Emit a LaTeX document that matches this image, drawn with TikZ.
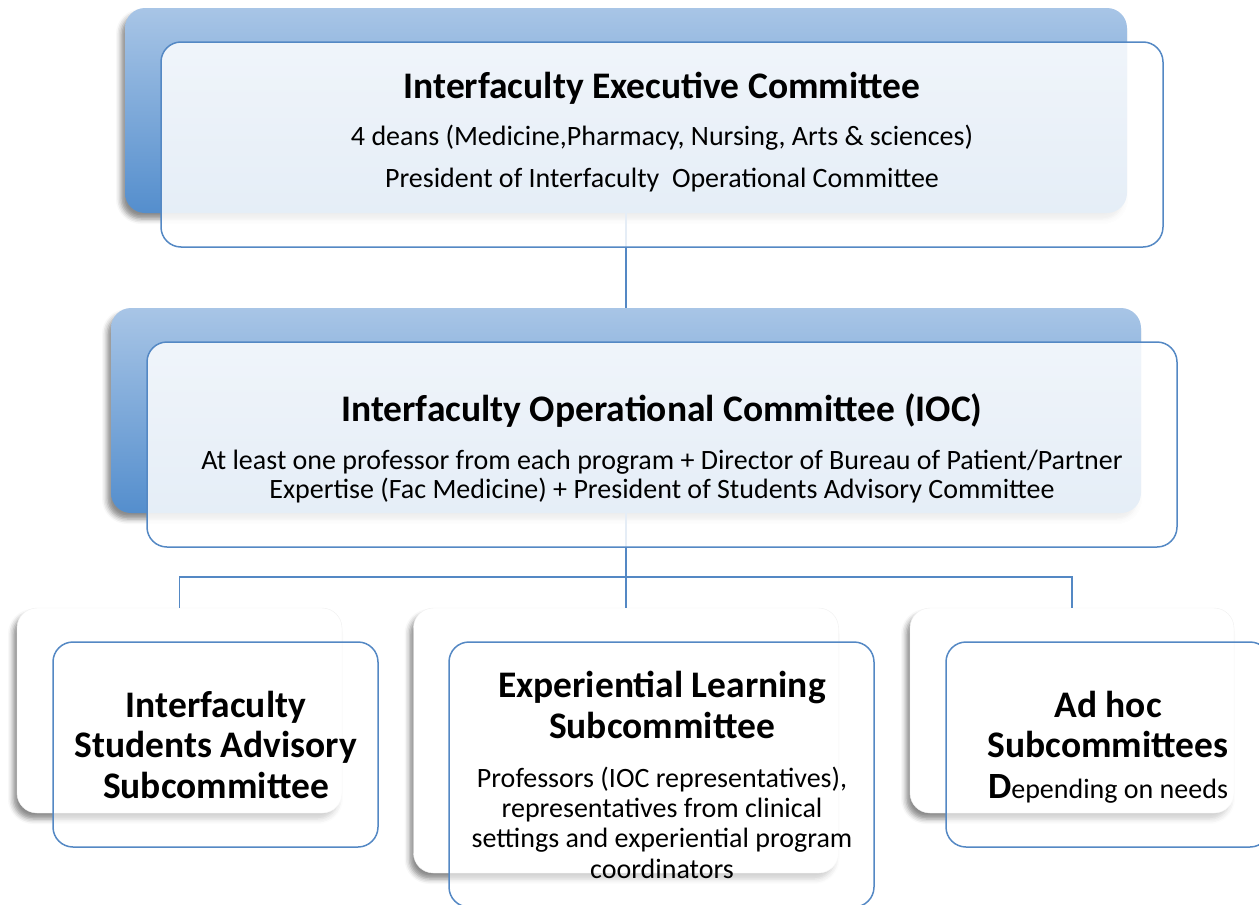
\documentclass[tikz,border=0pt]{standalone}
\usepackage{fontspec}
\setmainfont{Carlito}
\usetikzlibrary{shadows.blur}
\definecolor{backtop}{RGB}{168,197,230}
\definecolor{backbot}{RGB}{84,142,205}
\definecolor{edgeblue}{RGB}{84,136,196}
\tikzset{
  shadowed/.style={blur shadow={shadow xshift=-4pt, shadow yshift=-6pt, shadow blur radius=5pt, shadow opacity=45}},
  backbox/.style={rounded corners=20pt, inner sep=0pt, top color=backtop, bottom color=backbot, shadowed},
  whiteback/.style={rounded corners=20pt, inner sep=0pt, fill=white, draw=gray!12, shadowed},
  frontbox/.style={rounded corners=20pt, inner sep=0pt, draw=edgeblue, line width=1.5pt, fill=white, fill opacity=0.85},
  frontlow/.style={frontbox, fill opacity=0.6},
  conn/.style={draw=edgeblue, line width=1.5pt},
  ttl/.style={font=\bfseries\fontsize{37.5}{42}\selectfont, anchor=base, inner sep=0pt},
  bdy/.style={font=\fontsize{28}{32}\selectfont, anchor=base, inner sep=0pt},
}
\begin{document}
\begin{tikzpicture}[x=1pt,y=-1pt]
\useasboundingbox (0,0) rectangle (1259,905);
\clip (0,0) rectangle (1259,905);
% back boxes
\node[backbox, minimum width=1002pt, minimum height=205pt] (b1) at (626,110.5) {};
\node[backbox, minimum width=1030pt, minimum height=205pt] (b2) at (626,410.5) {};
\node[whiteback, minimum width=325pt, minimum height=205pt] (l1) at (179.5,710.5) {};
\node[whiteback, minimum width=425pt, minimum height=265pt] (m1) at (626,740.5) {};
\node[whiteback, minimum width=324pt, minimum height=205pt] (r1) at (1072,710.5) {};
% connectors
\draw[conn] (b1.south) -- (b2.north);
\coordinate (bus) at (626,577);
\draw[conn] (b2.south) -- (bus);
\draw[conn] (bus) -| (l1.north);
\draw[conn] (bus) -- (m1.north);
\draw[conn] (bus) -| (r1.north);
% front boxes
\node[frontbox, minimum width=1002pt, minimum height=205pt] (f1) at (662,144.5) {};
\node[frontbox, minimum width=1030pt, minimum height=205pt] (f2) at (662,444.5) {};
\node[frontlow, minimum width=325pt, minimum height=205pt] (lf) at (215.5,744.5) {};
\node[frontlow, minimum width=425pt, minimum height=265pt] (mf) at (661.5,774.5) {};
\node[frontlow, minimum width=324pt, minimum height=205pt] (rf) at (1108,744.5) {};
% texts box 1
\node[ttl] (t1a) at (662,98) {Interfaculty Executive Committee};
\node[bdy] (t1b) at (662,145) {4 deans (Medicine,Pharmacy, Nursing, Arts \& sciences)};
\node[bdy] (t1c) at (662,187) {President of Interfaculty\ \ Operational Committee};
% texts box 2
\node[ttl] (t2a) at (662,421) {Interfaculty Operational Committee (IOC)};
\node[bdy] (t2b) at (662,469) {At least one professor from each program + Director of Bureau of Patient/Partner};
\node[bdy] (t2c) at (662,498) {Expertise (Fac Medicine) + President of Students Advisory Committee};
% left
\node[ttl] (tla) at (216,717) {Interfaculty};
\node[ttl] (tlb) at (216,757) {Students Advisory};
\node[ttl] (tlc) at (216,798) {Subcommittee};
% middle
\node[ttl] (tma) at (662,697) {Experiential Learning};
\node[ttl] (tmb) at (662,738) {Subcommittee};
\node[bdy] (tmc) at (662,787) {Professors (IOC representatives),};
\node[bdy] (tmd) at (662,817) {representatives from clinical};
\node[bdy] (tme) at (662,847) {settings and experiential program};
\node[bdy] (tmf) at (662,878) {coordinators};
% right
\node[ttl] (tra) at (1108,717) {Ad hoc};
\node[ttl] (trb) at (1108,757) {Subcommittees};
\node[bdy] (trc) at (1108,798) {{\bfseries\fontsize{37}{40}\selectfont D}epending on needs};
\end{tikzpicture}
\end{document}
